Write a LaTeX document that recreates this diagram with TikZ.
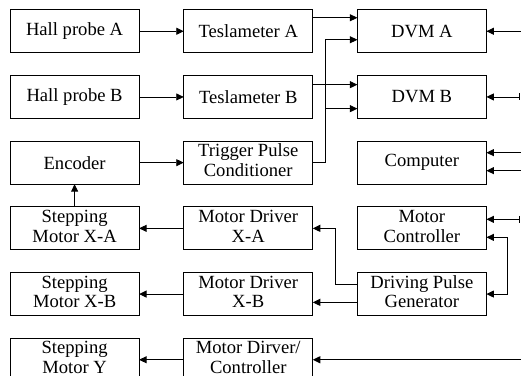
\documentclass[tikz,border=0pt]{standalone}
\usepackage{fontspec}
\setmainfont{Liberation Serif}
\usepackage{tikz}
\usetikzlibrary{matrix,arrows.meta}

\newcommand{\stk}[2]{\begin{tabular}{@{}c@{}}#1\\#2\end{tabular}}

\begin{document}
\begin{tikzpicture}[x=1pt,y=1pt,line width=0.9pt,
		blk/.style={draw,minimum width=129pt,minimum height=43pt,inner sep=0pt,outer sep=0pt,anchor=center,font=\fontsize{18.6}{19.5}\selectfont},
		arr/.style={-{Triangle[length=7.5pt,width=7pt]}},
		biarr/.style={{Triangle[length=7.5pt,width=7pt]}-{Triangle[length=7.5pt,width=7pt]}},
		tick/.style={{Triangle[length=7.5pt,width=7pt]}-{Bar[width=7pt]}}]
	\useasboundingbox (0,0) rectangle (521,-375);
	\clip (0,0) rectangle (521,-375);
		\matrix (m) [matrix of nodes,nodes={blk},column sep=43.75pt,row sep=21.8pt,inner sep=0pt,outer sep=0pt] at (248.25,-195.5) {
		Hall probe A & Teslameter A & DVM A \\
		Hall probe B & Teslameter B & DVM B \\
		Encoder & \stk{Trigger Pulse}{Conditioner} & Computer \\
		\stk{Stepping}{Motor X-A} & \stk{Motor Driver}{X-A} & \stk{Motor}{Controller} \\
		\stk{Stepping}{Motor X-B} & \stk{Motor Driver}{X-B} & \stk{Driving Pulse}{Generator} \\
		\stk{Stepping}{Motor Y} & \stk{Motor Dirver/}{Controller} & \\
		} ;
		\coordinate (rim) at (523,0);
		\coordinate (tk) at (520,0);
		\coordinate (trig) at ([xshift=13]m-3-2.east);
		\draw[arr] (m-1-1) -- (m-1-2);
		\draw[arr] (m-2-1) -- (m-2-2);
		\draw[arr] ([yshift=13.5]m-1-2.east) -- ([yshift=13.5]m-1-3.west);
		\draw[arr] ([yshift=12.3]m-2-2.east) -- ([yshift=12.3]m-2-3.west);
		\draw[arr] (m-3-2.east) -- (trig) |- ([yshift=-8.5]m-1-3.west);
		\draw[arr] (trig) |- ([yshift=-11.7]m-2-3.west);
		\draw[arr] (m-3-1) -- (m-3-2);
		\draw[arr] (m-4-1) -- (m-3-1);
		\draw[arr] (m-4-2) -- (m-4-1);
		\draw[arr] (m-5-2) -- (m-5-1);
		\draw[arr] (m-6-2) -- (m-6-1);
		\draw[arr] ([yshift=9.7]m-5-3.west) -- ++(-22,0) |- (m-4-2.east);
		\draw[arr] ([yshift=-8.3]m-5-3.west) -- ([yshift=-8.3]m-5-2.east);
		\draw[arr] (m-1-3.east -| rim) -- (m-1-3.east);
		\draw[tick] (m-2-3.east) -- (m-2-3.east -| tk);
		\draw[arr] ([yshift=10]m-3-3.east -| rim) -- ([yshift=10]m-3-3.east);
		\draw[arr] ([yshift=-8]m-3-3.east -| rim) -- ([yshift=-8]m-3-3.east);
		\draw[tick] ([yshift=9]m-4-3.east) -- ([yshift=9]m-4-3.east -| tk);
		\draw[biarr] ([yshift=-9]m-4-3.east) -- ++(21.5,0) |- (m-5-3.east);
		\draw[arr] (m-6-2.east -| rim) -- (m-6-2.east);
	\end{tikzpicture}
\end{document}
